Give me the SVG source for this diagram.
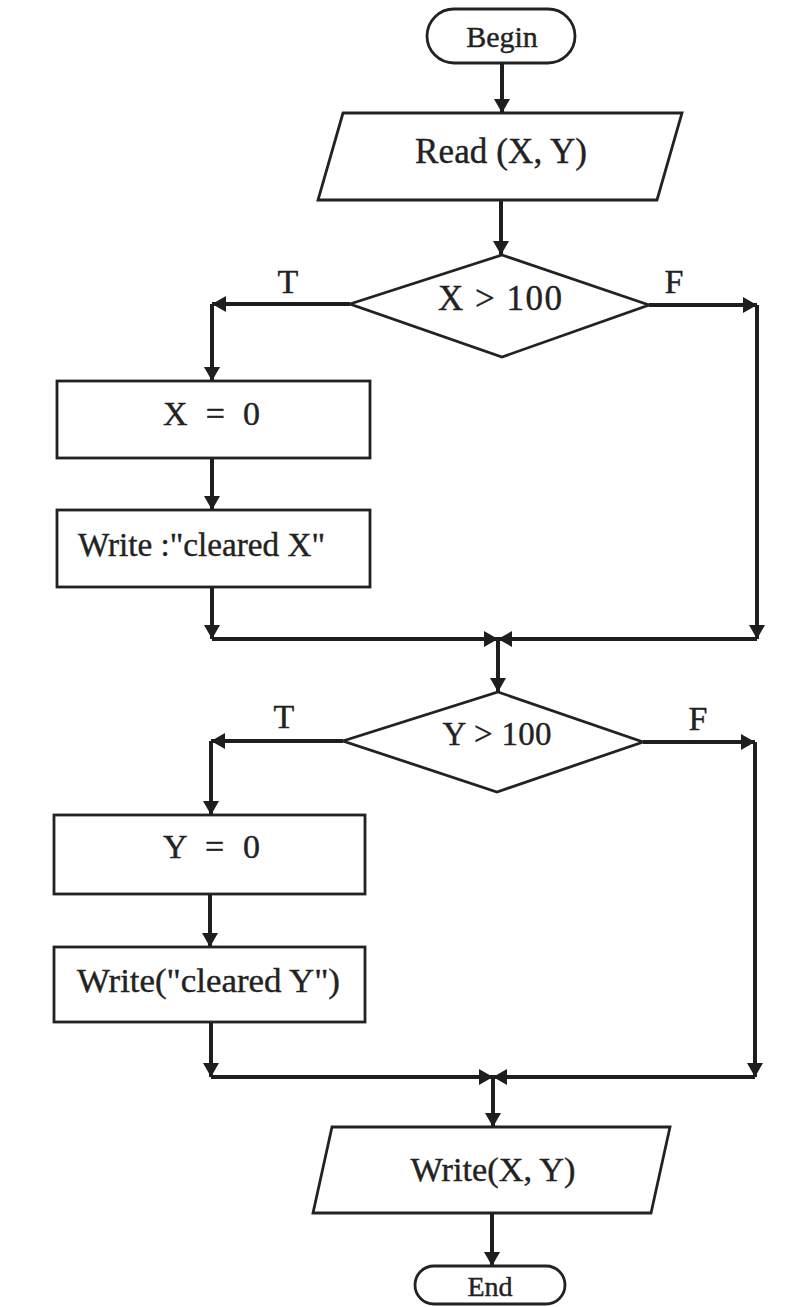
<svg xmlns="http://www.w3.org/2000/svg" width="788" height="1307" viewBox="0 0 788 1307">
<style>
.shape{fill:#fff;stroke:#222;stroke-width:2.8}
.conn{fill:none;stroke:#1e1e1e;stroke-width:4}
.lbl{font-family:"Liberation Serif","Times New Roman",serif;fill:#222;font-size:34px;stroke:#222;stroke-width:0.4}
.mid{text-anchor:middle}
</style>
<defs>
<marker id="arr" markerUnits="userSpaceOnUse" markerWidth="16" markerHeight="16" refX="14" refY="8" orient="auto">
<path d="M0,0 L14,8 L0,16 z" fill="#1e1e1e"/>
</marker>
</defs>
<rect width="788" height="1307" fill="#fff"/>
<g id="connectors">
<path class="conn" d="M502,63 V113" marker-end="url(#arr)"/>
<path class="conn" d="M501,200 V255" marker-end="url(#arr)"/>
<path class="conn" d="M350,304 H212" marker-end="url(#arr)"/>
<path class="conn" d="M212,304 V381" marker-end="url(#arr)"/>
<path class="conn" d="M649,305 H757" marker-end="url(#arr)"/>
<path class="conn" d="M212,458 V510" marker-end="url(#arr)"/>
<path class="conn" d="M212,587 V639" marker-end="url(#arr)"/>
<path class="conn" d="M212,639 H498" marker-end="url(#arr)"/>
<path class="conn" d="M757,305 V639" marker-end="url(#arr)"/>
<path class="conn" d="M757,639 H498" marker-end="url(#arr)"/>
<path class="conn" d="M498,639 V692" marker-end="url(#arr)"/>
<path class="conn" d="M343,741 H211" marker-end="url(#arr)"/>
<path class="conn" d="M211,741 V815" marker-end="url(#arr)"/>
<path class="conn" d="M643,742 H755" marker-end="url(#arr)"/>
<path class="conn" d="M210,894 V947" marker-end="url(#arr)"/>
<path class="conn" d="M211,1022 V1077" marker-end="url(#arr)"/>
<path class="conn" d="M211,1077 H493" marker-end="url(#arr)"/>
<path class="conn" d="M755,742 V1077" marker-end="url(#arr)"/>
<path class="conn" d="M755,1077 H493" marker-end="url(#arr)"/>
<path class="conn" d="M493,1077 V1127" marker-end="url(#arr)"/>
<path class="conn" d="M492,1213 V1266" marker-end="url(#arr)"/>
</g>
<g id="begin">
<rect class="shape" x="427" y="9" width="148" height="54" rx="27"/>
<text class="lbl mid" x="502" y="47" style="font-size:30px">Begin</text>
</g>
<g id="read">
<polygon class="shape" points="343,113 682,113 657,200 318,200"/>
<text class="lbl mid" x="501" y="163" style="font-size:35px" textLength="172">Read (X, Y)</text>
</g>
<g id="decisionX">
<polygon class="shape" points="502,255 649,305 502,357 350,304"/>
<text class="lbl mid" x="500" y="310" style="font-size:35px" textLength="124">X &gt; 100</text>
<text class="lbl mid" x="288" y="293">T</text>
<text class="lbl mid" x="674" y="293">F</text>
</g>
<g id="setX">
<rect class="shape" x="57" y="381" width="313" height="77"/>
<text class="lbl" x="163" y="425" textLength="97">X = 0</text>
</g>
<g id="writeX">
<rect class="shape" x="57" y="510" width="313" height="77"/>
<text class="lbl" x="78" y="556" textLength="247" lengthAdjust="spacingAndGlyphs">Write :"cleared X"</text>
</g>
<g id="decisionY">
<polygon class="shape" points="498,692 643,742 497,792 343,741"/>
<text class="lbl mid" x="497" y="745" style="font-size:33px" textLength="109">Y &gt; 100</text>
<text class="lbl mid" x="284" y="728">T</text>
<text class="lbl mid" x="698" y="730">F</text>
</g>
<g id="setY">
<rect class="shape" x="54" y="815" width="311" height="79"/>
<text class="lbl" x="163" y="858" textLength="97">Y = 0</text>
</g>
<g id="writeY">
<rect class="shape" x="54" y="947" width="311" height="75"/>
<text class="lbl" x="77" y="992" textLength="263" lengthAdjust="spacingAndGlyphs">Write("cleared Y")</text>
</g>
<g id="writeXY">
<polygon class="shape" points="332,1127 670,1127 651,1213 313,1213"/>
<text class="lbl mid" x="493" y="1181" textLength="165" lengthAdjust="spacingAndGlyphs">Write(X, Y)</text>
</g>
<g id="end">
<rect class="shape" x="415" y="1266" width="150" height="38" rx="19"/>
<text class="lbl mid" x="490" y="1296" style="font-size:28px">End</text>
</g>
</svg>
